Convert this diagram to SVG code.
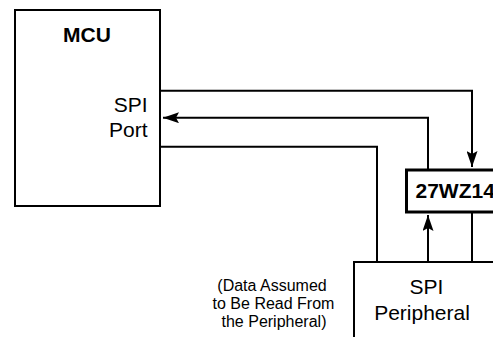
<svg xmlns="http://www.w3.org/2000/svg" width="493" height="337" viewBox="0 0 493 337">
  <style>
    .box { fill: #fff; stroke: #000; stroke-width: 2; }
    .chip { fill: #fff; stroke: #000; stroke-width: 3; }
    .wire { fill: none; stroke: #000; stroke-width: 2; }
    .lbl { font-family: "Liberation Sans", Arial, sans-serif; font-size: 21px; fill: #000; }
    .bold { font-weight: bold; }
    .note { font-family: "Liberation Sans", Arial, sans-serif; font-size: 16px; fill: #000; text-anchor: middle; }
  </style>
  <defs>
    <marker id="arrow" viewBox="0 0 16 11" refX="16" refY="5.5" markerWidth="16" markerHeight="11" markerUnits="userSpaceOnUse" orient="auto">
      <path d="M0,0 L16,5.5 L0,11 L3,5.5 Z" fill="#000"/>
    </marker>
  </defs>

  <rect width="493" height="337" fill="#fff"/>

  <g id="mcu">
    <rect class="box" x="15" y="10" width="145" height="196"/>
    <text class="lbl bold" x="87" y="41.5" text-anchor="middle" font-size="20.5">MCU</text>
    <text class="lbl" x="147.5" y="111.5" text-anchor="end">SPI</text>
    <text class="lbl" x="147.5" y="136.5" text-anchor="end">Port</text>
  </g>

  <g id="peripheral">
    <rect class="box" x="354" y="262" width="160" height="100"/>
    <text class="lbl" x="426.5" y="293.5" text-anchor="middle">SPI</text>
    <text class="lbl" x="422" y="320" text-anchor="middle">Peripheral</text>
  </g>

  <g id="buffer">
    <rect class="chip" x="406.5" y="170" width="110" height="42"/>
    <text class="lbl bold" x="415.5" y="198" font-size="21.5">27WZ14</text>
  </g>

  <g id="note">
    <text class="note" x="272" y="291">(Data Assumed</text>
    <text class="note" x="273.5" y="309">to Be Read From</text>
    <text class="note" x="274" y="327">the Peripheral)</text>
  </g>

  <g id="connectors">
    <!-- clock/select out to buffer -->
    <polyline class="wire" points="160,90.7 472,90.7 472,167" marker-end="url(#arrow)"/>
    <!-- data in from buffer -->
    <polyline class="wire" points="428,170 428,117.7 163,117.7" marker-end="url(#arrow)"/>
    <!-- direct line to peripheral -->
    <polyline class="wire" points="160,146.7 377,146.7 377,262"/>
    <!-- peripheral output into buffer -->
    <line class="wire" x1="428" y1="262" x2="428" y2="215" marker-end="url(#arrow)"/>
    <!-- buffer output to peripheral -->
    <line class="wire" x1="472" y1="212" x2="472" y2="262"/>
  </g>
</svg>
